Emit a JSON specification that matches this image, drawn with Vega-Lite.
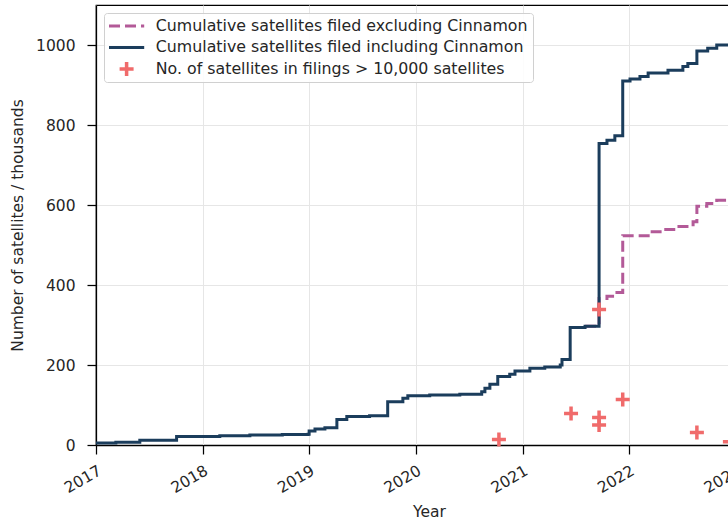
{
  "$schema": "https://vega.github.io/schema/vega-lite/v6.json",
  "width": 666,
  "height": 440,
  "autosize": {"type": "none"},
  "padding": {"left": 96, "top": 5, "right": -34, "bottom": 80},
  "background": "white",
  "config": {
    "font": "DejaVu Sans",
    "view": {"stroke": "black", "strokeWidth": 1.25},
    "axis": {
      "domainColor": "black", "domainWidth": 1.25,
      "tickColor": "black", "tickWidth": 1.25, "tickSize": 9,
      "labelFont": "DejaVu Sans", "labelFontSize": 15.5, "labelColor": "#262626",
      "titleFont": "DejaVu Sans", "titleFontSize": 15.5, "titleFontWeight": "normal", "titleColor": "#262626",
      "gridColor": "#e6e6e6", "gridWidth": 1
    }
  },
  "datasets": {
    "incl": [
      {"date": "2017-01-01", "value": 5, "series": "Cumulative satellites filed including Cinnamon"},
      {"date": "2017-03-10", "value": 7, "series": "Cumulative satellites filed including Cinnamon"},
      {"date": "2017-05-31", "value": 12, "series": "Cumulative satellites filed including Cinnamon"},
      {"date": "2017-10-04", "value": 21, "series": "Cumulative satellites filed including Cinnamon"},
      {"date": "2018-03-01", "value": 23, "series": "Cumulative satellites filed including Cinnamon"},
      {"date": "2018-06-12", "value": 25, "series": "Cumulative satellites filed including Cinnamon"},
      {"date": "2018-10-01", "value": 26, "series": "Cumulative satellites filed including Cinnamon"},
      {"date": "2018-12-28", "value": 27, "series": "Cumulative satellites filed including Cinnamon"},
      {"date": "2019-01-01", "value": 35, "series": "Cumulative satellites filed including Cinnamon"},
      {"date": "2019-01-21", "value": 40, "series": "Cumulative satellites filed including Cinnamon"},
      {"date": "2019-02-24", "value": 43, "series": "Cumulative satellites filed including Cinnamon"},
      {"date": "2019-04-06", "value": 64, "series": "Cumulative satellites filed including Cinnamon"},
      {"date": "2019-05-10", "value": 71, "series": "Cumulative satellites filed including Cinnamon"},
      {"date": "2019-07-27", "value": 73, "series": "Cumulative satellites filed including Cinnamon"},
      {"date": "2019-09-27", "value": 108, "series": "Cumulative satellites filed including Cinnamon"},
      {"date": "2019-11-18", "value": 117, "series": "Cumulative satellites filed including Cinnamon"},
      {"date": "2019-12-05", "value": 123, "series": "Cumulative satellites filed including Cinnamon"},
      {"date": "2020-02-18", "value": 125, "series": "Cumulative satellites filed including Cinnamon"},
      {"date": "2020-05-31", "value": 127, "series": "Cumulative satellites filed including Cinnamon"},
      {"date": "2020-08-14", "value": 133, "series": "Cumulative satellites filed including Cinnamon"},
      {"date": "2020-08-25", "value": 142, "series": "Cumulative satellites filed including Cinnamon"},
      {"date": "2020-09-11", "value": 152, "series": "Cumulative satellites filed including Cinnamon"},
      {"date": "2020-10-08", "value": 171, "series": "Cumulative satellites filed including Cinnamon"},
      {"date": "2020-11-18", "value": 177, "series": "Cumulative satellites filed including Cinnamon"},
      {"date": "2020-12-06", "value": 185, "series": "Cumulative satellites filed including Cinnamon"},
      {"date": "2021-01-26", "value": 192, "series": "Cumulative satellites filed including Cinnamon"},
      {"date": "2021-03-18", "value": 195, "series": "Cumulative satellites filed including Cinnamon"},
      {"date": "2021-05-10", "value": 200, "series": "Cumulative satellites filed including Cinnamon"},
      {"date": "2021-05-16", "value": 214, "series": "Cumulative satellites filed including Cinnamon"},
      {"date": "2021-06-13", "value": 294, "series": "Cumulative satellites filed including Cinnamon"},
      {"date": "2021-08-03", "value": 297, "series": "Cumulative satellites filed including Cinnamon"},
      {"date": "2021-09-20", "value": 754, "series": "Cumulative satellites filed including Cinnamon"},
      {"date": "2021-10-17", "value": 762, "series": "Cumulative satellites filed including Cinnamon"},
      {"date": "2021-11-13", "value": 773, "series": "Cumulative satellites filed including Cinnamon"},
      {"date": "2021-12-10", "value": 910, "series": "Cumulative satellites filed including Cinnamon"},
      {"date": "2022-01-04", "value": 915, "series": "Cumulative satellites filed including Cinnamon"},
      {"date": "2022-02-07", "value": 921, "series": "Cumulative satellites filed including Cinnamon"},
      {"date": "2022-03-07", "value": 930, "series": "Cumulative satellites filed including Cinnamon"},
      {"date": "2022-05-14", "value": 937, "series": "Cumulative satellites filed including Cinnamon"},
      {"date": "2022-07-04", "value": 946, "series": "Cumulative satellites filed including Cinnamon"},
      {"date": "2022-07-21", "value": 954, "series": "Cumulative satellites filed including Cinnamon"},
      {"date": "2022-08-21", "value": 985, "series": "Cumulative satellites filed including Cinnamon"},
      {"date": "2022-09-27", "value": 992, "series": "Cumulative satellites filed including Cinnamon"},
      {"date": "2022-10-28", "value": 1000, "series": "Cumulative satellites filed including Cinnamon"},
      {"date": "2023-04-01", "value": 1000, "series": "Cumulative satellites filed including Cinnamon"}
    ],
    "excl": [
      {"date": "2021-08-03", "value": 297, "series": "Cumulative satellites filed excluding Cinnamon"},
      {"date": "2021-09-20", "value": 366, "series": "Cumulative satellites filed excluding Cinnamon"},
      {"date": "2021-10-17", "value": 372, "series": "Cumulative satellites filed excluding Cinnamon"},
      {"date": "2021-11-13", "value": 381, "series": "Cumulative satellites filed excluding Cinnamon"},
      {"date": "2021-12-10", "value": 523, "series": "Cumulative satellites filed excluding Cinnamon"},
      {"date": "2022-03-14", "value": 533, "series": "Cumulative satellites filed excluding Cinnamon"},
      {"date": "2022-04-17", "value": 539, "series": "Cumulative satellites filed excluding Cinnamon"},
      {"date": "2022-06-10", "value": 546, "series": "Cumulative satellites filed excluding Cinnamon"},
      {"date": "2022-08-08", "value": 558, "series": "Cumulative satellites filed excluding Cinnamon"},
      {"date": "2022-08-21", "value": 597, "series": "Cumulative satellites filed excluding Cinnamon"},
      {"date": "2022-09-24", "value": 604, "series": "Cumulative satellites filed excluding Cinnamon"},
      {"date": "2022-10-28", "value": 612, "series": "Cumulative satellites filed excluding Cinnamon"},
      {"date": "2023-04-01", "value": 612, "series": "Cumulative satellites filed excluding Cinnamon"}
    ],
    "big": [
      {"date": "2020-10-12", "value": 14, "series": "No. of satellites in filings > 10,000 satellites"},
      {"date": "2021-06-16", "value": 79, "series": "No. of satellites in filings > 10,000 satellites"},
      {"date": "2021-09-20", "value": 69, "series": "No. of satellites in filings > 10,000 satellites"},
      {"date": "2021-09-20", "value": 50, "series": "No. of satellites in filings > 10,000 satellites"},
      {"date": "2021-09-20", "value": 339, "series": "No. of satellites in filings > 10,000 satellites"},
      {"date": "2021-12-10", "value": 114, "series": "No. of satellites in filings > 10,000 satellites"},
      {"date": "2022-08-21", "value": 31, "series": "No. of satellites in filings > 10,000 satellites"},
      {"date": "2022-12-12", "value": 8, "series": "No. of satellites in filings > 10,000 satellites"}
    ]
  },
  "encoding": {
    "x": {
      "field": "date", "type": "temporal",
      "scale": {"type": "utc", "domain": [{"year": 2017, "month": 1, "date": 1, "utc": true}, {"year": 2023, "month": 4, "date": 1, "utc": true}], "nice": false},
      "axis": {"title": "Year", "format": "%Y", "tickCount": "year", "labelAngle": -30, "labelAlign": "right", "labelBaseline": "top", "labelFlush": false, "labelOverlap": false, "labelPadding": 9, "titlePadding": 8, "grid": true}
    },
    "y": {
      "field": "value", "type": "quantitative",
      "scale": {"domain": [0, 1100], "nice": false, "zero": true},
      "axis": {"title": "Number of satellites / thousands", "values": [0, 200, 400, 600, 800, 1000], "format": "d", "labelPadding": 12, "titlePadding": 10, "grid": true}
    }
  },
  "layer": [
    {
      "data": {"name": "excl"},
      "mark": {"type": "line", "interpolate": "step-after", "strokeWidth": 3, "strokeDash": [11, 5]},
      "encoding": {
        "color": {
          "field": "series", "type": "nominal",
          "scale": {
            "domain": ["Cumulative satellites filed excluding Cinnamon", "Cumulative satellites filed including Cinnamon", "No. of satellites in filings > 10,000 satellites"],
            "range": ["#b35a98", "#1b3d5c", "#f06b6b"]
          },
          "legend": {
            "title": null, "orient": "top-left", "offset": 8, "padding": 5,
            "strokeColor": "#d0d0d0", "fillColor": "rgba(255,255,255,0.85)", "cornerRadius": 3,
            "labelFont": "DejaVu Sans", "labelFontSize": 15.8, "labelColor": "#262626",
            "labelOffset": 31, "rowPadding": 4.5, "symbolSize": 64, "symbolType": "stroke", "symbolStrokeWidth": 3,
            "labelLimit": 500,
            "encode": {
              "symbols": {
                "update": {
                  "x": {"value": 17.6},
                  "shape": {"signal": "datum.value === 'No. of satellites in filings > 10,000 satellites' ? 'M-1.75,-0.44H1.75V0.44H-1.75Z M-0.44,-1.75H0.44V1.75H-0.44Z' : 'M-4.4,0H4.4'"},
                  "size": {"value": 64},
                  "fill": {"signal": "datum.value === 'No. of satellites in filings > 10,000 satellites' ? '#f06b6b' : 'transparent'"},
                  "stroke": {"signal": "datum.value === 'No. of satellites in filings > 10,000 satellites' ? 'transparent' : (datum.value === 'Cumulative satellites filed excluding Cinnamon' ? '#b35a98' : '#1b3d5c')"},
                  "strokeDash": {"signal": "datum.value === 'Cumulative satellites filed excluding Cinnamon' ? [11, 5] : [1, 0]"},
                  "strokeWidth": {"signal": "datum.value === 'No. of satellites in filings > 10,000 satellites' ? 0 : 3"},
                  "opacity": {"value": 1}
                }
              }
            }
          }
        }
      }
    },
    {
      "data": {"name": "incl"},
      "mark": {"type": "line", "interpolate": "step-after", "strokeWidth": 3},
      "encoding": {"color": {"field": "series", "type": "nominal"}}
    },
    {
      "data": {"name": "big"},
      "mark": {"type": "point", "shape": "M-1,-0.25H1V0.25H-1Z M-0.25,-1H0.25V1H-0.25Z", "filled": true, "size": 196, "opacity": 1, "strokeWidth": 0},
      "encoding": {"color": {"field": "series", "type": "nominal"}}
    }
  ]
}
